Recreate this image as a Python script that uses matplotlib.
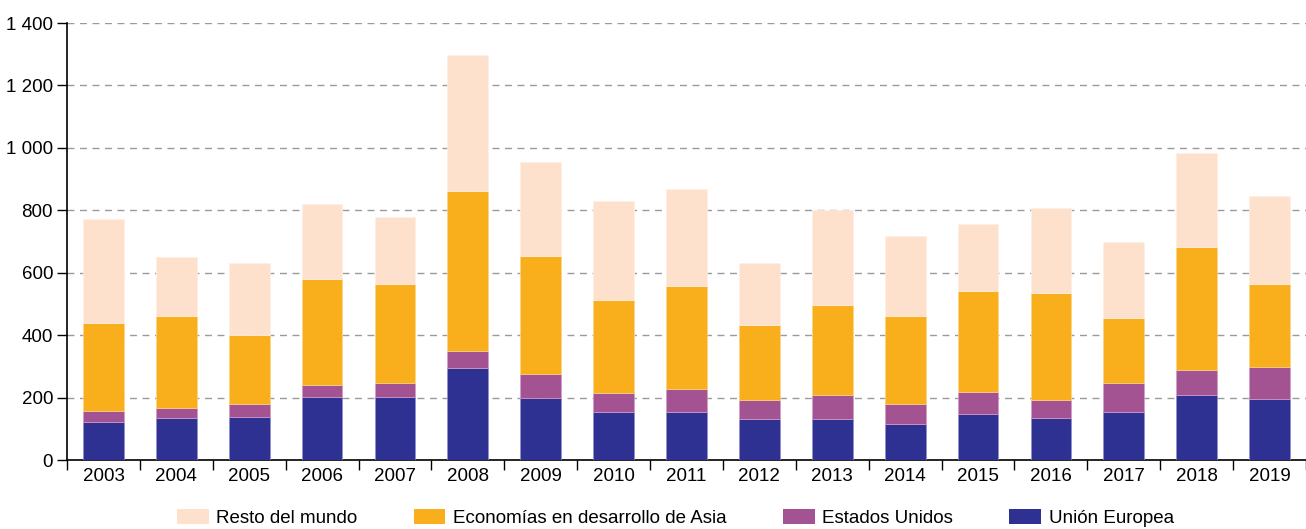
import matplotlib.pyplot as plt
import numpy as np
from matplotlib.ticker import FuncFormatter, MultipleLocator
from matplotlib.patches import Patch

plt.rcParams['font.family'] = ['Liberation Sans', 'DejaVu Sans']

# Data (stacked values)
years = ['2003', '2004', '2005', '2006', '2007', '2008', '2009', '2010', '2011',
         '2012', '2013', '2014', '2015', '2016', '2017', '2018', '2019']
union_europea = [123, 135, 139, 203, 203, 294, 198, 153, 153, 130, 130, 117, 146, 136, 153, 207, 197]
estados_unidos = [34, 33, 41, 38, 45, 56, 79, 61, 73, 62, 78, 63, 73, 55, 95, 80, 102]
asia = [283, 294, 220, 339, 316, 512, 378, 300, 333, 242, 289, 282, 322, 344, 208, 395, 265]
resto = [332, 187, 231, 239, 215, 437, 299, 316, 309, 197, 305, 256, 215, 272, 244, 301, 282]

labels = ['Resto del mundo', 'Economías en desarrollo de Asia', 'Estados Unidos', 'Unión Europea']
colors = ['#FDE1CD', '#F9AE1B', '#A35292', '#2E3192']

fig = plt.figure(figsize=(13.06, 5.29), dpi=100)
ax = fig.add_axes([0.0513, 0.1304, 0.9487, 0.826])

x = np.arange(len(years))
w = 0.56
eu = np.array(union_europea)
us = np.array(estados_unidos)
asi = np.array(asia)
rest = np.array(resto)

ax.bar(x, eu, w, color=colors[3], edgecolor='#8f8fd0', linewidth=0.5, zorder=3)
ax.bar(x, us, w, bottom=eu, color=colors[2], edgecolor='#d59bc8', linewidth=0.5, zorder=3)
ax.bar(x, asi, w, bottom=eu + us, color=colors[1], edgecolor='#fcd38a', linewidth=0.5, zorder=3)
ax.bar(x, rest, w, bottom=eu + us + asi, color=colors[0], edgecolor='#fff0e6', linewidth=0.5, zorder=3)

ax.set_ylim(0, 1400)
ax.set_xlim(-0.5, 16.36)
ax.yaxis.set_major_locator(MultipleLocator(200))
ax.yaxis.set_major_formatter(FuncFormatter(lambda v, p: f'{int(v):,}'.replace(',', ' ')))
for v in range(200, 1401, 200):
    ax.axhline(v, color='#9a9a9a', linestyle=(0, (5, 4)), linewidth=1, zorder=1)

ax.set_xticks(x)
ax.set_xticklabels(years)
ax.set_xticks(np.arange(-0.5, 16.6, 1), minor=True)
ax.tick_params(axis='x', which='major', length=0, pad=6, labelsize=13.5)
ax.tick_params(axis='x', which='minor', length=7, width=1, direction='out', color='black')
ax.tick_params(axis='y', length=7, width=1, direction='out', labelsize=13.5, pad=3)

for s in ['top', 'right']:
    ax.spines[s].set_visible(False)
ax.spines['left'].set_linewidth(1.2)
ax.spines['bottom'].set_linewidth(1.2)

handles = [Patch(facecolor=c) for c in colors]
fig.legend(handles, labels, loc='center', bbox_to_anchor=(0.517, 0.021), ncol=4,
           frameon=False, fontsize=13.5, handlelength=1.7, handleheight=0.9,
           handletextpad=0.4, columnspacing=3.0, borderpad=0, borderaxespad=0)

fig.savefig('out.png', dpi=100)
